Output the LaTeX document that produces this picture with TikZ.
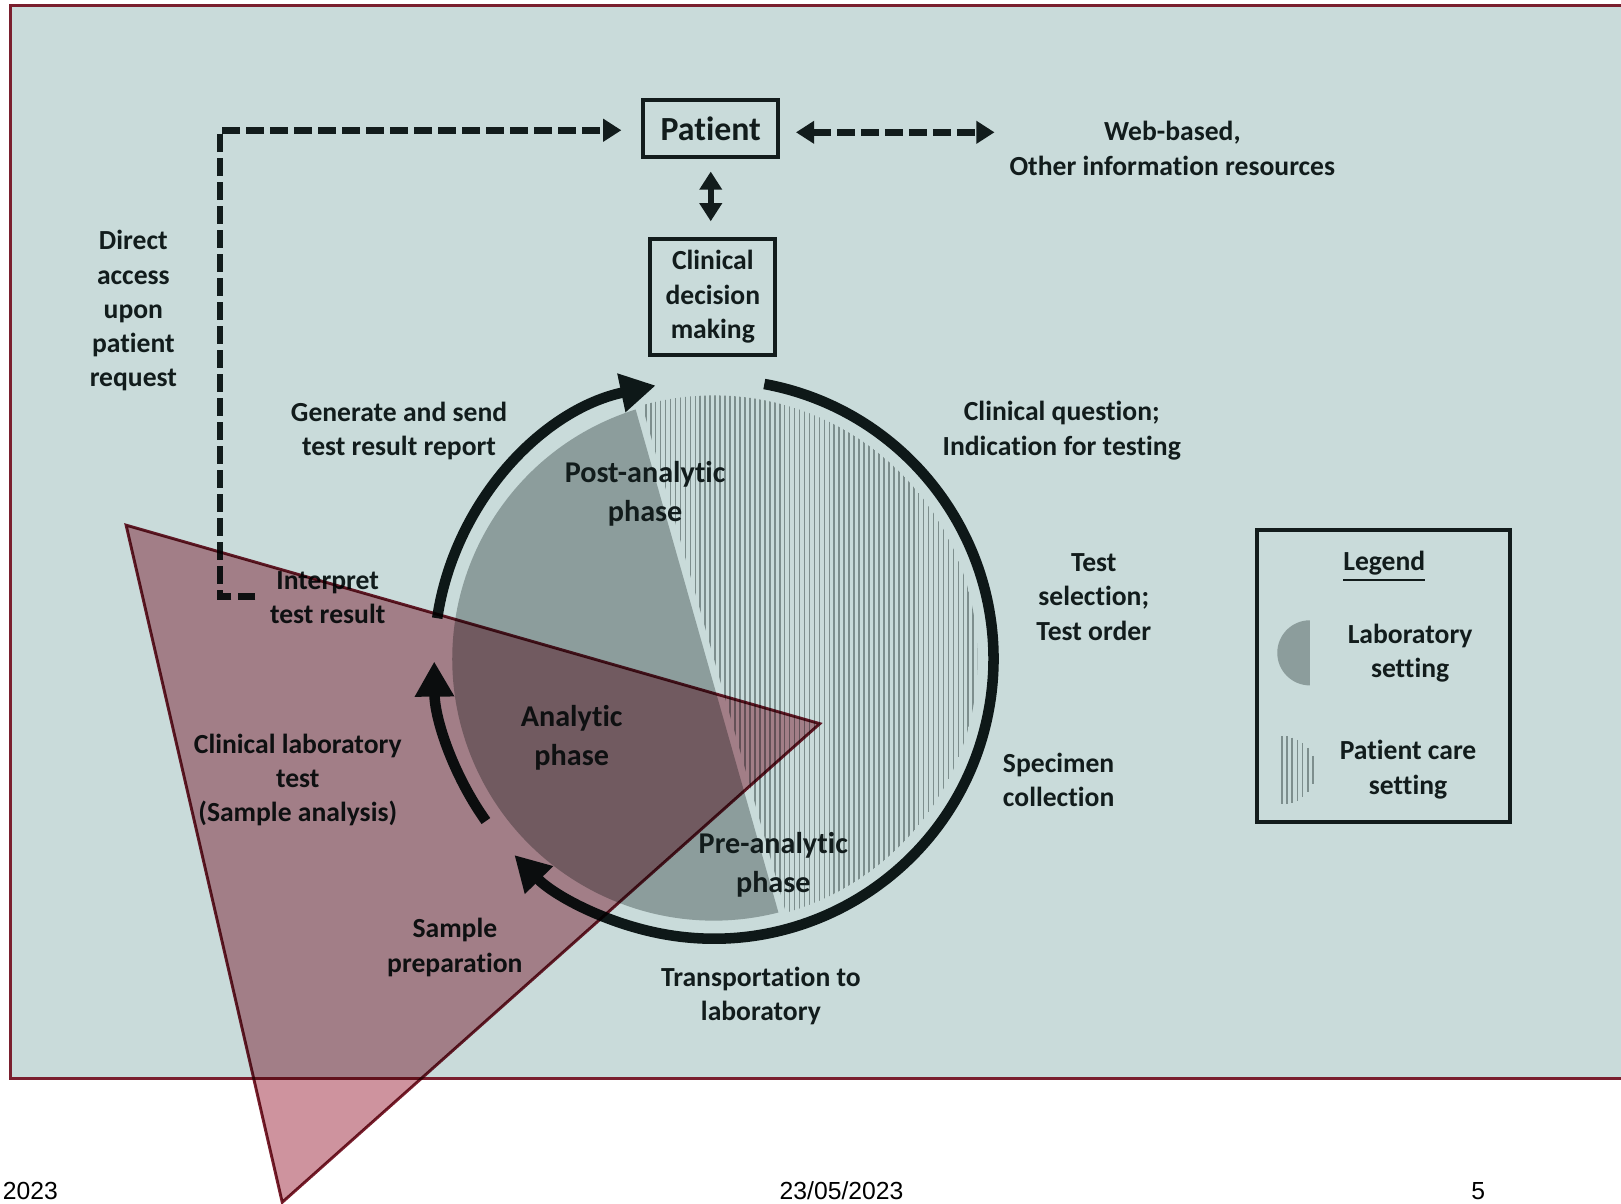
\documentclass[tikz,border=0pt]{standalone}
\usepackage{fontspec}
\usepackage{tikz}
\usetikzlibrary{
	arrows.meta,
	calc,
	positioning
}
\newfontfamily\carlito[Ligatures={NoCommon}]{Carlito}
\newfontfamily\footfont{Liberation Sans}
\definecolor{panelbg}{RGB}{201,219,218}
\definecolor{framered}{RGB}{122,31,46}
\definecolor{ringdark}{RGB}{14,24,24}
\definecolor{labgray}{RGB}{140,157,156}
\definecolor{stripegray}{RGB}{125,142,141}
\definecolor{ink}{RGB}{18,28,28}
\definecolor{overlaypink}{RGB}{206,147,158}
\tikzset{
	lbl/.style={align=center, text=ink, font=\carlito\bfseries\fontsize{7.6}{9.4}\selectfont},
	phaselbl/.style={align=center, text=ink, font=\carlito\bfseries\fontsize{8.3}{10.6}\selectfont},
	boxed/.style={lbl, draw=ink, line width=1.1pt, inner sep=2pt},
	ring/.style={draw=ringdark, line width=2.9pt},
	ringarrow/.style={ring, -{Triangle[length=3.4mm,width=3.6mm]}},
	dashlink/.style={draw=ink, line width=1.8pt, dash pattern=on 4.9pt off 1.7pt},
	smalltip/.tip={Triangle[length=5pt,width=6pt]},
	foot/.style={inner sep=0pt, text=black, font=\footfont\fontsize{6.8}{8}\selectfont}
}
\begin{document}
\begin{tikzpicture}
		\useasboundingbox (0,0) rectangle (15.68,-11.64);
		\fill[white] (0,0) rectangle (15.68,-11.64);
		% panel
		\fill[panelbg] (0.10,-0.05) rectangle (15.68,-10.43);
		\draw[framered, line width=0.8pt] (15.68,-0.05) -- (0.10,-0.05) -- (0.10,-10.43) -- (15.68,-10.43);
		\coordinate (C) at (6.905,-6.375);
		\coordinate (gtop) at ($(C)+(107.4:2.53)$);
		\coordinate (gbot) at ($(C)+(284.3:2.53)$);
		% laboratory setting
		\fill[labgray] (gtop) arc[start angle=107.4, end angle=284.3, radius=2.53] -- cycle;
		% patient care setting
		\begin{scope}
			\clip (C) circle (2.55);
			\clip ($(gtop)+(15.8:0.07)+(105.8:1)$) -- ($(gbot)+(15.8:0.07)+(285.8:1)$) -- ++(15.8:4) -- ++(105.8:7) -- cycle;
			\foreach \k in {0,...,70} {
				\pgfmathsetmacro\xs{6.15+0.048*\k}
				\draw[stripegray, line width=0.45pt] (\xs,-3.7) -- (\xs,-9.1);
			}
		\end{scope}
		% testing cycle
		\draw[ringarrow] ($(C)+(79.6:2.705)$) arc[start angle=79.6, end angle=-135.5, radius=2.705];
		\draw[ringarrow] ($(C)+(215.4:2.705)$) arc[start angle=215.4, end angle=180.5, radius=2.705];
		\draw[ringarrow] ($(C)+(171.6:2.705)$) arc[start angle=171.6, end angle=102, radius=2.705];
		% boxes
		\node[boxed, minimum width=1.31cm, minimum height=0.55cm, font=\carlito\bfseries\fontsize{9.3}{11}\selectfont] (patient) at (6.875,-1.245) {Patient};
		\node[boxed, minimum width=1.21cm, minimum height=1.12cm] (decision) at (6.895,-2.87) {Clinical\\decision\\making};
		% links
		\coordinate (accessend) at (2.47,-5.77);
		\coordinate (accesscorner) at (2.13,-1.26);
		\coordinate (web) at (9.62,-1.28);
		\draw[dashlink, -{smalltip}, shorten >=1.9mm] (accessend) -- (accesscorner |- accessend) -- (accesscorner) -- (patient.west |- accesscorner);
		\draw[dashlink, {smalltip}-{smalltip}, shorten <=1.5mm] (patient.east |- web) -- (web);
		\draw[draw=ink, line width=1.6pt, {smalltip}-{smalltip}, shorten <=1.2mm, shorten >=1.5mm] (patient.south) -- (patient.south |- decision.north);
		% labels
		\node[lbl] (weblbl) at (11.34,-1.435) {Web-based,\\Other information resources};
		\node[lbl] (direct) at (1.29,-3.005) {Direct\\access\\upon\\patient\\request};
		\node[lbl] (generate) at (3.86,-4.165) {Generate and send\\test result report};
		\node[lbl] (interpret) at (3.17,-5.785) {Interpret\\test result};
		\node[lbl] (labtest) at (2.88,-7.545) {Clinical laboratory\\test\\(Sample analysis)};
		\node[lbl] (prep) at (4.40,-9.165) {Sample\\preparation};
		\node[lbl] (transport) at (7.36,-9.635) {Transportation to\\laboratory};
		\node[lbl] (specimen) at (10.24,-7.545) {Specimen\\collection};
		\node[lbl] (order) at (10.58,-5.775) {Test\\selection;\\Test order};
		\node[lbl] (question) at (10.27,-4.165) {Clinical question;\\Indication for testing};
		\node[phaselbl] (post) at (6.24,-4.775) {Post-analytic\\phase};
		\node[phaselbl] (analytic) at (5.53,-7.135) {Analytic\\phase};
		\node[phaselbl] (pre) at (7.48,-8.365) {Pre-analytic\\phase};
		% legend
		\node[draw=ink, line width=1.1pt, minimum width=2.45cm, minimum height=2.82cm] (legend) at (13.385,-6.54) {};
		\node[lbl] (legendtitle) at (13.39,-5.48) {\underline{Legend}};
		\fill[labgray] (12.67,-6.0) arc[start angle=90, end angle=270, radius=0.315] -- cycle;
		\node[lbl] (labset) at (13.64,-6.32) {Laboratory\\setting};
		\foreach \k in {0,...,6} {
			\pgfmathsetmacro\dx{0.05*\k}
			\pgfmathsetmacro\hh{sqrt(0.33*0.33-\dx*\dx)}
			\draw[stripegray, line width=0.45pt] (12.40+\dx,-7.45+\hh) -- (12.40+\dx,-7.45-\hh);
		}
		\node[lbl] (careset) at (13.62,-7.445) {Patient care\\setting};
		% overlay
		\coordinate (T1) at (1.22,-5.08);
		\coordinate (T2) at (7.93,-7.00);
		\coordinate (T3) at (2.73,-11.63);
		\filldraw[fill=overlaypink, blend mode=multiply, draw=framered, line width=0.8pt] (T1) -- (T2) -- (T3) -- cycle;
		% footer
		\node[foot, anchor=west] (year) at (0.02,-11.52) {2023};
		\node[foot] (date) at (8.14,-11.52) {23/05/2023};
		\node[foot] (pageno) at (14.30,-11.52) {5};
	\end{tikzpicture}
\end{document}
